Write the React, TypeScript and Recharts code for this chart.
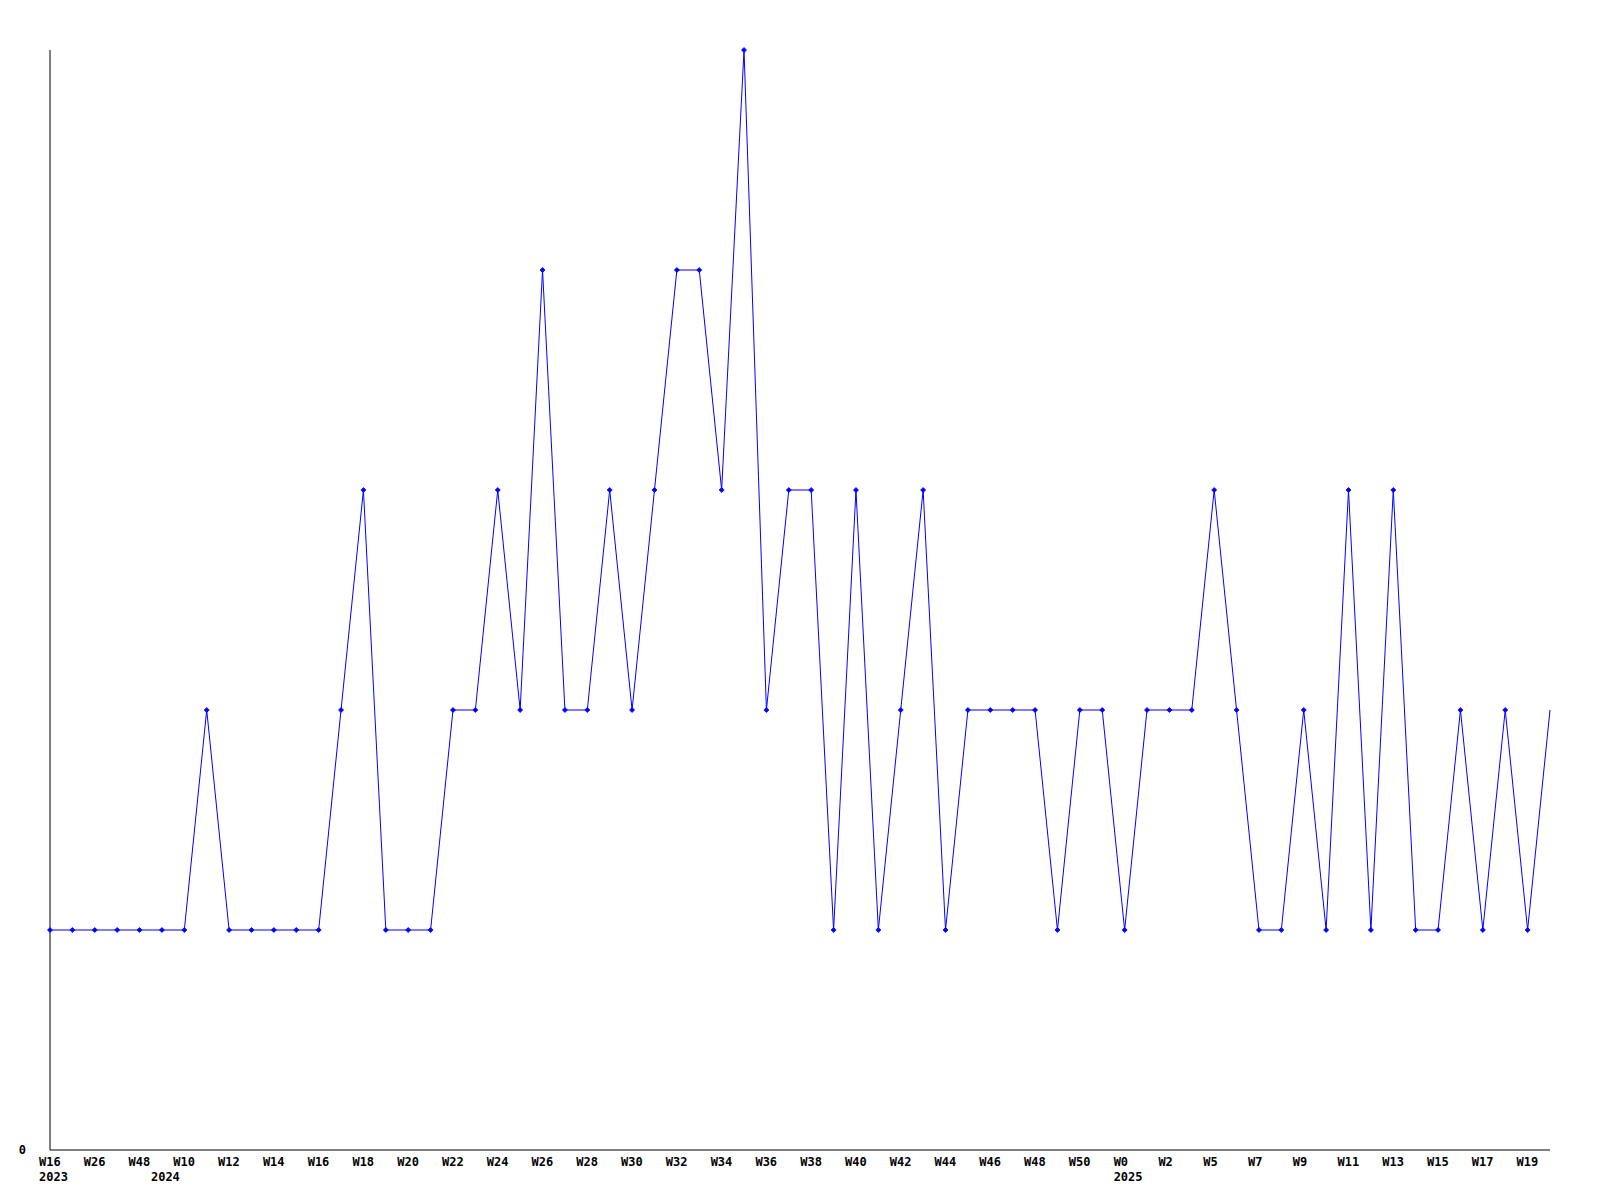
import { LineChart, Line, XAxis, YAxis } from "recharts";

const weeks = [
  "W16", "W17", "W26", "W27", "W48", "W1", "W10", "W11", "W12", "W13",
  "W14", "W15", "W16", "W17", "W18", "W19", "W20", "W21", "W22", "W23",
  "W24", "W25", "W26", "W27", "W28", "W29", "W30", "W31", "W32", "W33",
  "W34", "W35", "W36", "W37", "W38", "W39", "W40", "W41", "W42", "W43",
  "W44", "W45", "W46", "W47", "W48", "W49", "W50", "W51", "W0", "W1",
  "W2", "W4", "W5", "W6", "W7", "W8", "W9", "W10", "W11", "W12",
  "W13", "W14", "W15", "W16", "W17", "W18", "W19", "W20",
];

// year shown on a second line where a new year starts
const years = weeks.map((_, i) => (i === 0 ? "2023" : i === 5 ? "2024" : i === 48 ? "2025" : ""));

const counts = [
  1, 1, 1, 1, 1, 1, 1, 2, 1, 1,
  1, 1, 1, 2, 3, 1, 1, 1, 2, 2,
  3, 2, 4, 2, 2, 3, 2, 3, 4, 4,
  3, 5, 2, 3, 3, 1, 3, 1, 2, 3,
  1, 2, 2, 2, 2, 1, 2, 2, 1, 2,
  2, 2, 3, 2, 1, 1, 2, 1, 3, 1,
  3, 1, 1, 2, 1, 2, 1, 2,
];

const data = weeks.map((w, i) => ({ key: i, week: w, year: years[i], count: counts[i] }));

const FONT = "'DejaVu Sans Mono', monospace";

function WeekTick(props: any) {
  const { x, y, payload } = props;
  const idx = Number(payload.value);
  const row = data[idx];
  if (!row) return <g />;
  return (
    <g>
      {idx % 2 === 0 ? (
        <text x={x - 11} y={y + 16} textAnchor="start" fontFamily={FONT} fontSize={12} fontWeight="bold" fill="#000">
          {row.week}
        </text>
      ) : null}
      {row.year ? (
        <text x={x - 11} y={y + 31} textAnchor="start" fontFamily={FONT} fontSize={12} fontWeight="bold" fill="#000">
          {row.year}
        </text>
      ) : null}
    </g>
  );
}

function Marker(props: any) {
  const { cx, cy, index } = props;
  if (index === data.length - 1 || cx == null) return <g key={"m" + index} />;
  return (
    <path
      key={"m" + index}
      d={`M${cx - 2.5},${cy} L${cx},${cy - 2.5} L${cx + 2.5},${cy} L${cx},${cy + 2.5} Z`}
      fill="#0000ff"
      stroke="#0000ff"
      strokeWidth={0.8}
    />
  );
}

export default function App() {
  return (
    <div style={{ position: "absolute", left: 0, top: 0, width: 1600, height: 1200, background: "#fff" }}>
      <LineChart width={1600} height={1200} data={data} margin={{ top: 50, right: 50, left: 0, bottom: 0 }}>
        <XAxis
          dataKey="key"
          type="category"
          scale="point"
          interval={0}
          height={50}
          tickLine={false}
          tickSize={0}
          tickMargin={0}
          axisLine={{ stroke: "#000", strokeWidth: 1 }}
          tick={<WeekTick />}
        />
        <YAxis
          width={50}
          domain={[0, 5]}
          ticks={[0]}
          tickLine={false}
          tickSize={0}
          tickMargin={24}
          axisLine={{ stroke: "#000", strokeWidth: 1 }}
          tick={{ fontFamily: FONT, fontSize: 12, fontWeight: "bold", fill: "#000" }}
        />
        <Line
          type="linear"
          dataKey="count"
          stroke="#0000ff"
          strokeWidth={1}
          dot={<Marker />}
          activeDot={false}
          isAnimationActive={false}
        />
      </LineChart>
    </div>
  );
}
